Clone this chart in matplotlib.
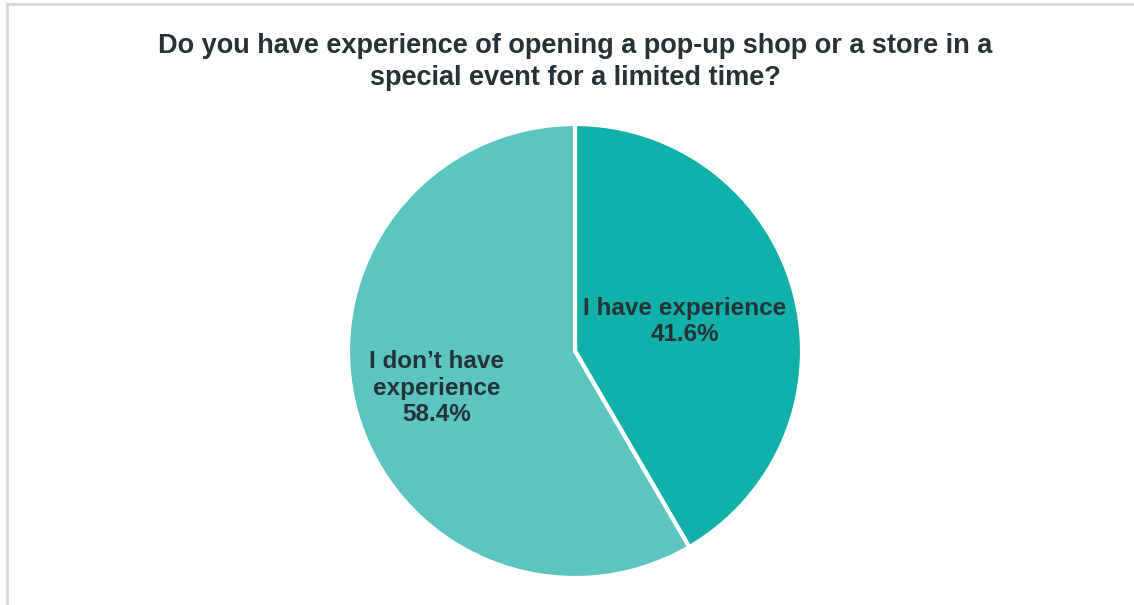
import numpy as np
import matplotlib.pyplot as plt
from matplotlib.lines import Line2D

plt.rcParams['font.family'] = ['Liberation Sans', 'DejaVu Sans']

title = ("Do you have experience of opening a pop-up shop or a store in a\n"
         "special event for a limited time?")
labels = ["I have experience", "I don\u2019t have\nexperience"]
shares = [41.6, 58.4]
colors = ["#12B0AA", "#5CC5C1"]
label_dist = [0.50, 0.63]

text_color = "#263238"
W, H = 1134, 605

fig = plt.figure(figsize=(W / 100, H / 100), dpi=100)
ax = fig.add_axes([0, 0, 1, 1])

cx, cy, r = 575, H - 351, 227
wedges, _ = ax.pie(shares, colors=colors, startangle=90, counterclock=False,
                   center=(cx, cy), radius=r,
                   wedgeprops=dict(edgecolor="white", linewidth=3))

# label each wedge along its mid angle
for w, lab, val, d in zip(wedges, labels, shares, label_dist):
    mid = np.deg2rad((w.theta1 + w.theta2) / 2)
    x = cx + d * r * np.cos(mid)
    y = cy + d * r * np.sin(mid)
    ax.text(x, y, f"{lab}\n{val:.1f}%", ha="center", va="center",
            fontsize=17.5, fontweight="bold", color=text_color,
            linespacing=1.2)

ax.set_xlim(0, W)
ax.set_ylim(0, H)
ax.set_aspect("auto")
ax.axis("off")

fig.text(575 / W, 1 - 62 / H, title, ha="center", va="center",
         fontsize=19.5, fontweight="bold", color=text_color, linespacing=1.3)

# thin grey frame on the top and left edges
fig.add_artist(Line2D([7 / W, 1], [1 - 4 / H, 1 - 4 / H], transform=fig.transFigure,
                      color="#D9D9D9", linewidth=2))
fig.add_artist(Line2D([7 / W, 7 / W], [0, 1 - 4 / H], transform=fig.transFigure,
                      color="#D9D9D9", linewidth=2))

fig.savefig("out.png", dpi=100)
